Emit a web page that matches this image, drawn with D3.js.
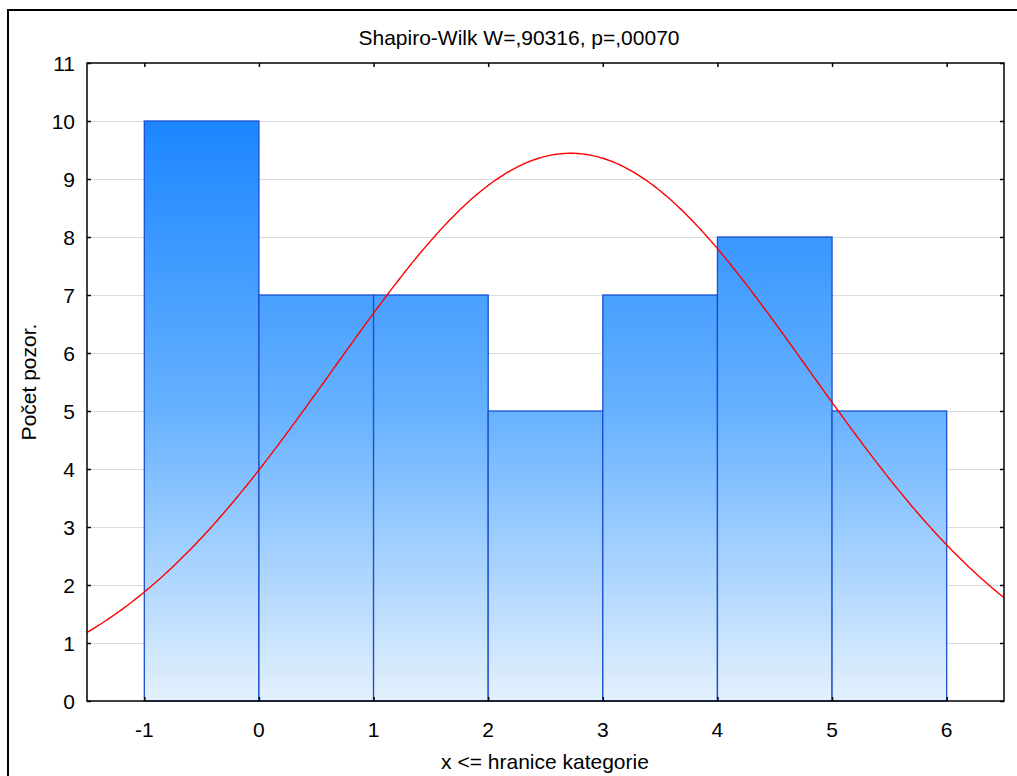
<!DOCTYPE html>
<html>
<head>
<meta charset="utf-8">
<script src="https://cdn.jsdelivr.net/npm/d3@7"></script>
<style>
  html, body { margin: 0; padding: 0; background: #fff; }
  svg { display: block; font-family: Arial, "Liberation Sans", sans-serif; }
</style>
</head>
<body>
<svg id="chart" width="1017" height="776"></svg>
<script>
// Histogram bins (upper bounds) and counts
const binLower = [-1, 0, 1, 2, 3, 4, 5];
const binUpper = [0, 1, 2, 3, 4, 5, 6];
const counts = [10, 7, 7, 5, 7, 8, 5];

// Fitted normal curve parameters
const fitMean = 2.72;
const fitSd = 2.07;
const fitN = 49;
const fitBinWidth = 1;

// Axis ticks and texts
const xTicks = [-1, 0, 1, 2, 3, 4, 5, 6];
const yTicks = [0, 1, 2, 3, 4, 5, 6, 7, 8, 9, 10, 11];
const titleText = "Shapiro-Wilk W=,90316, p=,00070";
const xLabel = "x <= hranice kategorie";
const yLabel = "Počet pozor.";

const svg = d3.select("#chart");
const m = { left: 87, top: 63, right: 1004, bottom: 701 };

const x = d3.scaleLinear().domain([-1.5, 6.5]).range([m.left, m.right]);
const y = d3.scaleLinear().domain([0, 11]).range([m.bottom, m.top]);

// Outer frame
svg.append("rect")
  .attr("x", 8).attr("y", 10).attr("width", 1030).attr("height", 800)
  .attr("fill", "none").attr("stroke", "#000").attr("stroke-width", 2);

// Vertical gradient for bars, tied to the plot's value range
const defs = svg.append("defs");
const grad = defs.append("linearGradient")
  .attr("id", "barGrad").attr("gradientUnits", "userSpaceOnUse")
  .attr("x1", 0).attr("x2", 0).attr("y1", y(10)).attr("y2", y(0));
grad.append("stop").attr("offset", "0%").attr("stop-color", "#1c86ff");
grad.append("stop").attr("offset", "50%").attr("stop-color", "#66b1ff");
grad.append("stop").attr("offset", "100%").attr("stop-color", "#e4f1fd");

const clip = defs.append("clipPath").attr("id", "plotClip");
clip.append("rect").attr("x", m.left).attr("y", m.top)
  .attr("width", m.right - m.left).attr("height", m.bottom - m.top);

// Grid lines
svg.append("g").selectAll("line").data(yTicks.filter(d => d > 0 && d < 11)).join("line")
  .attr("x1", m.left).attr("x2", m.right)
  .attr("y1", d => y(d) + 0.5).attr("y2", d => y(d) + 0.5)
  .attr("stroke", "#dcdcdc").attr("stroke-width", 1);

// Bars
const bins = counts.map((c, i) => ({ lo: binLower[i], hi: binUpper[i], c }));
svg.append("g").selectAll("rect").data(bins).join("rect")
  .attr("x", d => x(d.lo))
  .attr("y", d => y(d.c))
  .attr("width", d => x(d.hi) - x(d.lo))
  .attr("height", d => y(0) - y(d.c))
  .attr("fill", "url(#barGrad)")
  .attr("stroke", "#1a4fd0").attr("stroke-width", 1.3);

// Fitted normal curve
const pdf = v => fitN * fitBinWidth / (fitSd * Math.sqrt(2 * Math.PI)) *
  Math.exp(-0.5 * Math.pow((v - fitMean) / fitSd, 2));
const curveX = d3.range(-1.5, 6.5001, 0.02);
svg.append("path")
  .datum(curveX)
  .attr("clip-path", "url(#plotClip)")
  .attr("d", d3.line().x(d => x(d)).y(d => y(pdf(d))))
  .attr("fill", "none").attr("stroke", "#ff0000").attr("stroke-width", 1.4);

// Axes with short inward ticks on all four sides
const fs = "21px";
const axLeft = svg.append("g").attr("transform", `translate(${m.left},0)`)
  .call(d3.axisRight(y).tickValues(yTicks).tickSize(4).tickFormat(""));
const axRight = svg.append("g").attr("transform", `translate(${m.right},0)`)
  .call(d3.axisLeft(y).tickValues(yTicks).tickSize(4).tickFormat(""));
const axBottom = svg.append("g").attr("transform", `translate(0,${m.bottom})`)
  .call(d3.axisTop(x).tickValues(xTicks).tickSize(4).tickFormat(""));
const axTop = svg.append("g").attr("transform", `translate(0,${m.top})`)
  .call(d3.axisBottom(x).tickValues(xTicks).tickSize(4).tickFormat(""));
[axLeft, axRight, axBottom, axTop].forEach(g => {
  g.select(".domain").remove();
  g.selectAll(".tick line").attr("stroke", "#000").attr("stroke-width", 1.5);
});

// Y tick labels
svg.append("g").selectAll("text").data(yTicks).join("text")
  .attr("x", m.left - 12).attr("y", d => y(d) + 7.5)
  .attr("text-anchor", "end").attr("font-size", fs).attr("fill", "#000")
  .text(d => d);

// X tick labels below the axis
svg.append("g").selectAll("text").data(xTicks).join("text")
  .attr("x", d => x(d)).attr("y", m.bottom + 36)
  .attr("text-anchor", "middle").attr("font-size", fs).attr("fill", "#000")
  .text(d => d);

// Plot frame
svg.append("rect")
  .attr("x", m.left).attr("y", m.top)
  .attr("width", m.right - m.left).attr("height", m.bottom - m.top)
  .attr("fill", "none").attr("stroke", "#000").attr("stroke-width", 1.5);

// Title and axis labels
svg.append("text").attr("x", 519).attr("y", 45).attr("text-anchor", "middle")
  .attr("font-size", fs).attr("fill", "#000").text(titleText);
svg.append("text").attr("x", 545).attr("y", 769).attr("text-anchor", "middle")
  .attr("font-size", fs).attr("fill", "#000").text(xLabel);
svg.append("text")
  .attr("transform", `translate(36,${(m.top + m.bottom) / 2}) rotate(-90)`)
  .attr("text-anchor", "middle")
  .attr("font-size", fs).attr("fill", "#000").text(yLabel);
</script>
</body>
</html>
